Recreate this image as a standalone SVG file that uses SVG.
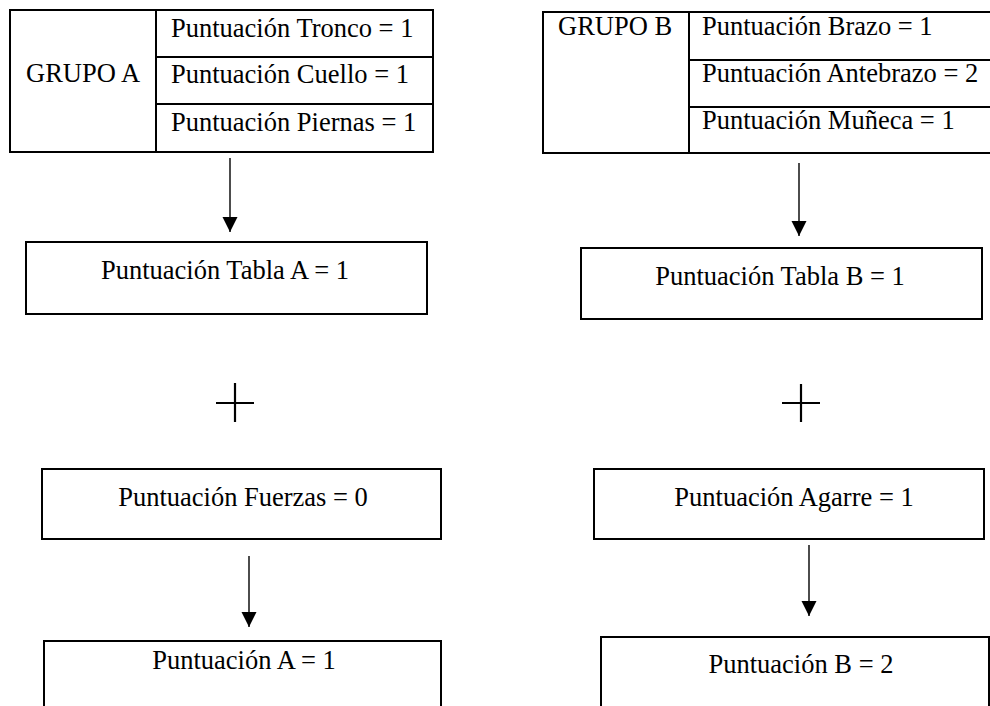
<svg xmlns="http://www.w3.org/2000/svg" width="990" height="706" viewBox="0 0 990 706">
  <style>
    .box { fill: #ffffff; stroke: #000000; stroke-width: 2; }
    .rule { stroke: #000000; stroke-width: 2; fill: none; }
    .lbl { font-family: "Liberation Serif", "Times New Roman", serif; font-size: 26.5px; fill: #000000; }
    .mid { text-anchor: middle; }
    .conn { stroke: #000000; stroke-width: 1.4; fill: none; marker-end: url(#arrow); }
    .plus { stroke: #000000; stroke-width: 2.2; }
  </style>
  <defs>
    <marker id="arrow" markerUnits="userSpaceOnUse" markerWidth="16" markerHeight="16" refX="15" refY="8" orient="auto">
      <path d="M0,0.5 L15,8 L0,15.5 Z" fill="#000000"/>
    </marker>
  </defs>
  <rect width="990" height="706" fill="#ffffff"/>

  <!-- Group A: body posture table -->
  <g id="grupo-a">
    <rect class="box" x="10" y="10" width="423" height="142"/>
    <line class="rule" x1="156" y1="10" x2="156" y2="152"/>
    <line class="rule" x1="156" y1="57" x2="433" y2="57"/>
    <line class="rule" x1="156" y1="104" x2="433" y2="104"/>
    <text class="lbl" x="26" y="82">GRUPO A</text>
    <text class="lbl" x="171" y="37">Puntuación Tronco = 1</text>
    <text class="lbl" x="171" y="83">Puntuación Cuello = 1</text>
    <text class="lbl" x="171" y="131">Puntuación Piernas = 1</text>
  </g>

  <!-- Group B: arm posture table -->
  <g id="grupo-b">
    <rect class="box" x="543" y="12" width="460" height="141"/>
    <line class="rule" x1="689" y1="12" x2="689" y2="153"/>
    <line class="rule" x1="689" y1="60" x2="1003" y2="60"/>
    <line class="rule" x1="689" y1="107" x2="1003" y2="107"/>
    <text class="lbl" x="558" y="35">GRUPO B</text>
    <text class="lbl" x="702" y="35">Puntuación Brazo = 1</text>
    <text class="lbl" x="702" y="82">Puntuación Antebrazo = 2</text>
    <text class="lbl" x="702" y="129">Puntuación Muñeca = 1</text>
  </g>

  <g id="tabla-a">
    <rect class="box" x="26" y="242" width="401" height="72"/>
    <text class="lbl mid" x="225" y="279">Puntuación Tabla A = 1</text>
  </g>

  <g id="tabla-b">
    <rect class="box" x="581" y="248" width="401" height="71"/>
    <text class="lbl mid" x="780" y="285">Puntuación Tabla B = 1</text>
  </g>

  <g id="suma-a">
    <line class="plus" x1="216" y1="403" x2="254" y2="403"/>
    <line class="plus" x1="235" y1="383" x2="235" y2="422"/>
  </g>

  <g id="suma-b">
    <line class="plus" x1="782" y1="403" x2="820" y2="403"/>
    <line class="plus" x1="801" y1="384" x2="801" y2="422"/>
  </g>

  <g id="fuerzas">
    <rect class="box" x="42" y="469" width="399" height="70"/>
    <text class="lbl mid" x="243" y="506">Puntuación Fuerzas = 0</text>
  </g>

  <g id="agarre">
    <rect class="box" x="594" y="469" width="390" height="70"/>
    <text class="lbl mid" x="794" y="506">Puntuación Agarre = 1</text>
  </g>

  <g id="puntuacion-a">
    <rect class="box" x="44" y="641" width="397" height="80"/>
    <text class="lbl mid" x="244" y="669">Puntuación A = 1</text>
  </g>

  <g id="puntuacion-b">
    <rect class="box" x="601" y="637" width="388" height="84"/>
    <text class="lbl mid" x="801" y="673">Puntuación B = 2</text>
  </g>

  <!-- connectors -->
  <g id="connectors">
    <line class="conn" x1="230" y1="158" x2="230" y2="232"/>
    <line class="conn" x1="799" y1="163" x2="799" y2="236"/>
    <line class="conn" x1="249" y1="556" x2="249" y2="627"/>
    <line class="conn" x1="809" y1="545" x2="809" y2="616"/>
  </g>
</svg>
